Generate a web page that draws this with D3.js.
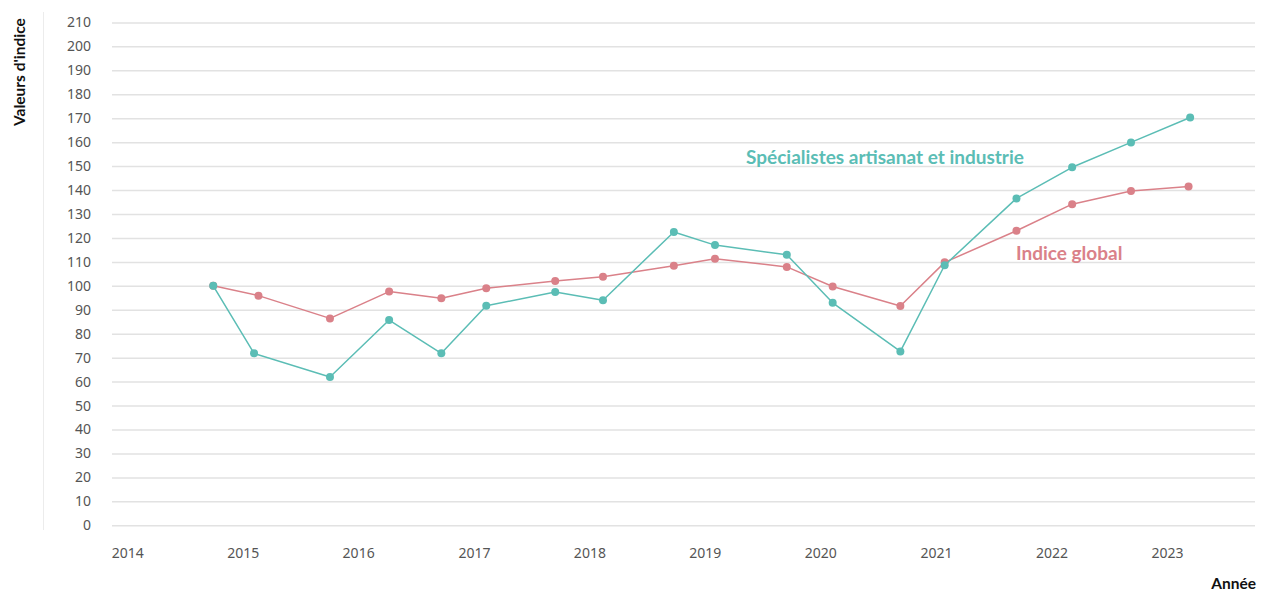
<!DOCTYPE html>
<html>
<head>
<meta charset="utf-8">
<script src="https://cdn.jsdelivr.net/npm/d3@7"></script>
<style>
  body { margin: 0; background: #fff; }
  svg { display: block; }
</style>
</head>
<body>
<svg id="chart" width="1266" height="593"></svg>
<script>
const datesSpec = ["2014-09-30", "2015-02-06", "2015-10-04", "2016-04-08", "2016-09-20", "2017-02-09",
  "2017-09-15", "2018-02-13", "2018-09-25", "2019-02-02", "2019-09-17", "2020-02-09",
  "2020-09-10", "2021-01-28", "2021-09-12", "2022-03-07", "2022-09-09", "2023-03-15"];
const datesGlobal = ["2014-09-30", "2015-02-20", "2015-10-04", "2016-04-08", "2016-09-20", "2017-02-09",
  "2017-09-15", "2018-02-13", "2018-09-25", "2019-02-02", "2019-09-17", "2020-02-09",
  "2020-09-10", "2021-01-28", "2021-09-12", "2022-03-07", "2022-09-09", "2023-03-10"];
const valuesSpec = [100, 71.8, 61.9, 85.7, 71.8, 91.7, 97.4, 94, 122.5, 117, 113, 92.9, 72.6, 108.6, 136.5, 149.5, 159.9, 170.3];
const valuesGlobal = [100, 95.9, 86.4, 97.6, 94.8, 99, 102, 103.8, 108.4, 111.3, 107.9, 99.7, 91.6, 109.8, 123, 134.1, 139.6, 141.5];
const yearTicks = [2014, 2015, 2016, 2017, 2018, 2019, 2020, 2021, 2022, 2023];
const yTicks = d3.range(0, 211, 10);

const svg = d3.select("#chart");
const margin = {top: 22.4, right: 11, bottom: 67.7, left: 112};
const width = 1266, height = 593;

const parse = d3.timeParse("%Y-%m-%d");
const x = d3.scaleTime()
  .domain([new Date(2013, 10, 14), new Date(2023, 9, 6)])
  .range([margin.left, width - margin.right]);
const y = d3.scaleLinear()
  .domain([0, 210])
  .range([height - margin.bottom, margin.top]);

const tealColor = "#5bbdb5";
const redColor = "#da8189";
const tickFont = "'Noto Sans', sans-serif";

// left thin rule
svg.append("line")
  .attr("x1", 43.5).attr("x2", 43.5)
  .attr("y1", 12).attr("y2", 530)
  .attr("stroke", "#ececec").attr("stroke-width", 1);

// y axis with grid
const yAxis = g => g
  .attr("transform", `translate(${margin.left},0)`)
  .call(d3.axisLeft(y).tickValues(yTicks).tickSize(-(width - margin.right - margin.left)).tickPadding(21))
  .call(g => g.select(".domain").remove())
  .call(g => g.selectAll(".tick line").attr("stroke", "#e2e2e2").attr("stroke-width", 1.5))
  .call(g => g.selectAll(".tick text")
    .attr("fill", "#555").attr("font-size", 14).attr("font-family", tickFont));
svg.append("g").call(yAxis);

// x axis labels only
const xAxis = g => g
  .attr("transform", `translate(0,${height - margin.bottom})`)
  .call(d3.axisBottom(x)
    .tickValues(yearTicks.map(yr => new Date(yr, 0, 1)))
    .tickFormat(d3.timeFormat("%Y"))
    .tickSize(0).tickPadding(23))
  .call(g => g.select(".domain").remove())
  .call(g => g.selectAll(".tick text")
    .attr("fill", "#555").attr("font-size", 14).attr("font-family", tickFont));
svg.append("g").call(xAxis);

// axis titles
svg.append("text")
  .attr("transform", "translate(25,126) rotate(-90)")
  .attr("font-family", "Lato, sans-serif").attr("font-weight", "bold")
  .attr("font-size", 15.5).attr("fill", "#111")
  .text("Valeurs d'indice");
svg.append("text")
  .attr("x", 1256).attr("y", 589)
  .attr("text-anchor", "end")
  .attr("font-family", "Lato, sans-serif").attr("font-weight", "bold")
  .attr("font-size", 15.5).attr("fill", "#111")
  .text("Année");

const line = d3.line()
  .x(d => x(d.date))
  .y(d => y(d.value));

const series = [
  {name: "Indice global", color: redColor,
    data: datesGlobal.map((d, i) => ({date: parse(d), value: valuesGlobal[i]}))},
  {name: "Spécialistes artisanat et industrie", color: tealColor,
    data: datesSpec.map((d, i) => ({date: parse(d), value: valuesSpec[i]}))}
];

series.forEach(s => {
  svg.append("path")
    .datum(s.data)
    .attr("fill", "none")
    .attr("stroke", s.color)
    .attr("stroke-width", 1.5)
    .attr("stroke-linejoin", "round")
    .attr("d", line);
  svg.append("g").selectAll("circle")
    .data(s.data)
    .enter()
    .append("circle")
      .attr("cx", d => x(d.date))
      .attr("cy", d => y(d.value))
      .attr("r", 4)
      .attr("fill", s.color);
});

// direct labels
svg.append("text")
  .attr("x", 746).attr("y", 163.5)
  .attr("font-family", "Lato, sans-serif").attr("font-weight", "bold")
  .attr("font-size", 19).attr("fill", tealColor)
  .text("Spécialistes artisanat et industrie");
svg.append("text")
  .attr("x", 1016).attr("y", 260)
  .attr("font-family", "Lato, sans-serif").attr("font-weight", "bold")
  .attr("font-size", 19).attr("fill", redColor)
  .text("Indice global");
</script>
</body>
</html>
